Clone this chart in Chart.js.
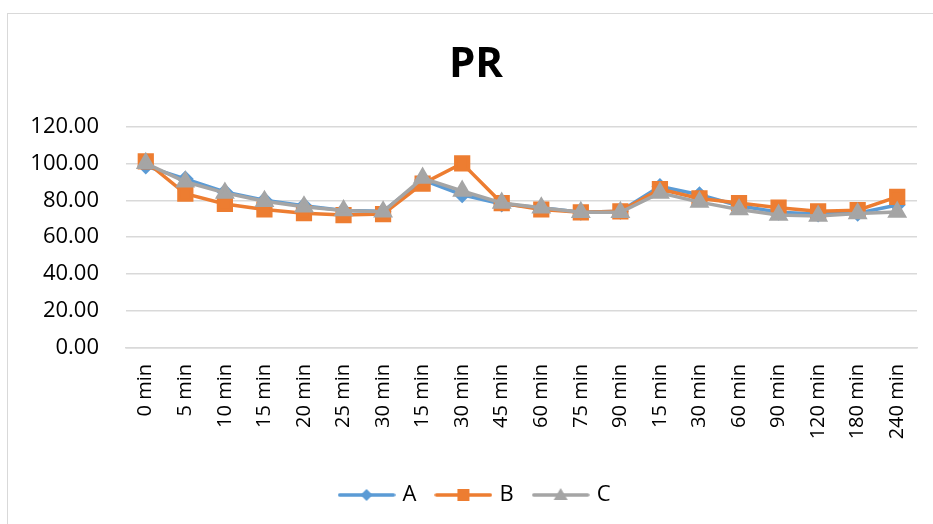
<!DOCTYPE html>
<html lang="en">
<head>
<meta charset="UTF-8">
<title>PR</title>
<script src="https://cdn.jsdelivr.net/npm/chart.js"></script>
<style>
body {
    margin: 0;
    background: #fff;
    overflow: hidden;
}
#wrap {
    position: relative;
    width: 933px;
    height: 524px;
    overflow: hidden;
}
#frame {
    position: absolute;
    left: 7px;
    top: 13px;
    width: 960px;
    height: 600px;
    border: 1px solid #d9d9d9;
}
#prChart {
    position: absolute;
    left: 0;
    top: 0;
}
</style>
</head>
<body>
<div id="wrap">
<div id="frame"></div>
<canvas id="prChart" width="952" height="524"></canvas>
</div>

<script>
const categories=["0 min","5 min","10 min","15 min","20 min","25 min","30 min","15 min","30 min","45 min","60 min","75 min","90 min","15 min","30 min","60 min","90 min","120 min","180 min","240 min"];
const seriesA=[98.5,91.5,84.5,80,77,74.5,74,91,83,78,76,73.5,74,87.5,83,77,73.5,72.5,73,77.4];
const seriesB=[101,83.6,78,75,73,72,72.5,89,100,78.5,75,73.5,74,86,81,78.5,76,74,74.6,81.8];
const seriesC=[100,90,84,79.5,76.5,74.5,73.8,92,85,78.5,76,73.5,73.5,84,79,75,72,71.5,72.8,73.6];
const yTicks=[0,20,40,60,80,100,120];

const colA="#5b9bd5", colB="#ed7d31", colC="#a5a5a5";
const FONT="'Open Sans', sans-serif";

// little line+marker pictures for the legend
function legendIcon(color, shape){
    const c=document.createElement("canvas");
    c.width=58; c.height=18;
    const g=c.getContext("2d");
    g.strokeStyle=color; g.lineWidth=3.5; g.lineCap="round";
    g.beginPath(); g.moveTo(2,9); g.lineTo(56,9); g.stroke();
    g.fillStyle=color;
    g.beginPath();
    if(shape==="diamond"){
        g.moveTo(29,3); g.lineTo(35,9); g.lineTo(29,15); g.lineTo(23,9);
    } else if(shape==="square"){
        g.rect(23,3,12,12);
    } else {
        g.moveTo(29,2); g.lineTo(36,14); g.lineTo(22,14);
    }
    g.closePath(); g.fill();
    return c;
}
const icons=[legendIcon(colA,"diamond"),legendIcon(colB,"square"),legendIcon(colC,"triangle")];

const ctx=document.getElementById("prChart").getContext("2d");
new Chart(ctx,{
    type:"line",
    data:{
        labels:categories,
        datasets:[
            {label:"A", data:seriesA, borderColor:colA, backgroundColor:colA, borderWidth:3.5,
             pointStyle:"rectRot", pointRadius:6, pointHoverRadius:6, order:3},
            {label:"B", data:seriesB, borderColor:colB, backgroundColor:colB, borderWidth:3.5,
             pointStyle:"rect", pointRadius:9, pointHoverRadius:9, order:2},
            {label:"C", data:seriesC, borderColor:colC, backgroundColor:colC, borderWidth:3.5,
             pointStyle:"triangle", pointRadius:8, pointHoverRadius:8, order:1}
        ]
    },
    options:{
        responsive:false,
        animation:false,
        devicePixelRatio:1,
        layout:{padding:{left:0,right:0,top:0,bottom:8}},
        plugins:{
            title:{
                display:true, text:"PR", color:"#000",
                font:{family:FONT, size:42, weight:"bold"},
                padding:{top:40,bottom:36}
            },
            legend:{
                position:"bottom",
                labels:{
                    usePointStyle:true, pointStyleWidth:50, padding:22, color:"#000",
                    font:{family:FONT, size:22},
                    generateLabels:(chart)=>chart.data.datasets.map((ds,i)=>({
                        text:ds.label, pointStyle:icons[i], fillStyle:ds.borderColor,
                        strokeStyle:ds.borderColor, lineWidth:0, hidden:false, datasetIndex:i
                    }))
                }
            },
            tooltip:{enabled:false}
        },
        scales:{
            x:{
                offset:true,
                grid:{display:false, drawTicks:false},
                border:{display:true, color:"#d9d9d9", width:1.5},
                ticks:{minRotation:90, maxRotation:90, autoSkip:false, padding:16, color:"#000",
                       font:{family:FONT, size:20}},
                afterFit:(s)=>{ s.height=114; }
            },
            y:{
                min:0, max:120,
                afterBuildTicks:(s)=>{ s.ticks=yTicks.map(v=>({value:v})); },
                grid:{color:"#d9d9d9", lineWidth:1.5, drawTicks:false},
                border:{display:false},
                ticks:{padding:27, color:"#000", font:{family:FONT, size:22},
                       callback:(v)=>Number(v).toFixed(2)},
                afterFit:(s)=>{ s.width=126; }
            },
            // empty right-hand axis, only keeps the plot clear of the frame's right side
            yRight:{
                position:"right", display:true, min:0, max:120,
                grid:{display:false, drawTicks:false}, border:{display:false},
                ticks:{display:false},
                afterFit:(s)=>{ s.width=35; }
            }
        }
    }
});
</script>
</body>
</html>
